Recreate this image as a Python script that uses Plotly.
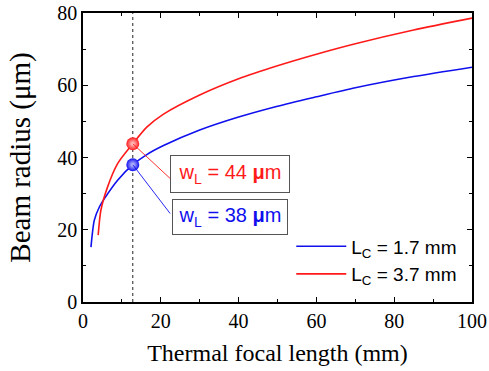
import plotly.graph_objects as go

# Blue curve: L_C = 1.7 mm
blue_f = [2.05, 2.9, 4.2, 5.5, 8.9, 12.8, 16.4, 20.7, 30, 40, 50, 60, 70, 85, 100]
blue_w = [15.2, 22.6, 26.3, 28.6, 33.7, 38.0, 40.8, 43.3, 47.6, 51.2, 54.2, 56.8, 59.3, 62.4, 65.0]
# Red curve: L_C = 3.7 mm
red_f = [3.9, 4.6, 6.3, 8.9, 12.8, 16.4, 20.7, 30, 40, 50, 60, 70, 85, 100]
red_w = [18.5, 25.4, 31.8, 38.3, 43.8, 48.4, 52.0, 57.3, 61.8, 65.4, 68.6, 71.5, 75.3, 78.6]

series_names = ["L<sub>C</sub> = 1.7 mm", "L<sub>C</sub> = 3.7 mm"]
f_mark = 12.8
w_mark_blue = 38.0
w_mark_red = 43.8
label_red = "w<sub>L</sub> = 44 <b>\u03bc</b>m"
label_blue = "w<sub>L</sub> = 38 <b>\u03bc</b>m"

BLUE = "#1010ee"
RED = "#ff1a1a"
SERIF = "Liberation Serif, Times New Roman, serif"
SANS = "Liberation Sans, Arial, sans-serif"

fig = go.Figure()
fig.add_trace(go.Scatter(x=blue_f, y=blue_w, mode="lines", name=series_names[0],
                         line=dict(color=BLUE, width=1.6, shape="spline", smoothing=0.7)))
fig.add_trace(go.Scatter(x=red_f, y=red_w, mode="lines", name=series_names[1],
                         line=dict(color=RED, width=1.6, shape="spline", smoothing=0.7)))

# dotted vertical line
fig.add_shape(type="line", x0=f_mark, x1=f_mark, y0=0, y1=80, xref="x", yref="y",
              line=dict(color="#222222", width=1, dash="dot"), layer="below")

# connector lines to labels
fig.add_shape(type="line", x0=f_mark, y0=w_mark_red, x1=22.4, y1=34.2,
              line=dict(color=RED, width=0.9))
fig.add_shape(type="line", x0=f_mark, y0=w_mark_blue, x1=22.4, y1=24.5,
              line=dict(color=BLUE, width=0.9))

# sphere markers
fig.add_trace(go.Scatter(x=[f_mark], y=[w_mark_red], mode="markers", showlegend=False,
                         marker=dict(size=13, color=RED, line=dict(width=0),
                                     gradient=dict(type="radial", color="#ffd8d8"))))
fig.add_trace(go.Scatter(x=[f_mark], y=[w_mark_blue], mode="markers", showlegend=False,
                         marker=dict(size=13, color=BLUE, line=dict(width=0),
                                     gradient=dict(type="radial", color="#d0d0ff"))))

fig.add_annotation(x=37.9, y=35.4, xref="x", yref="y", text=label_red, showarrow=False,
                   font=dict(family=SANS, size=20, color=RED),
                   bordercolor="#555555", borderwidth=1, bgcolor="white",
                   width=116, height=34)
fig.add_annotation(x=37.8, y=23.5, xref="x", yref="y", text=label_blue, showarrow=False,
                   font=dict(family=SANS, size=20, color=BLUE),
                   bordercolor="#555555", borderwidth=1, bgcolor="white",
                   width=112, height=32)

axis_common = dict(showline=True, linecolor="black", linewidth=1.5, mirror="ticks",
                   ticks="inside", ticklen=5, tickwidth=1.2, tickcolor="black",
                   showgrid=False, zeroline=False, automargin=False,
                   ticklabeloverflow="allow",
                   tickfont=dict(family=SERIF, size=20, color="black"))

fig.update_xaxes(range=[0, 100], dtick=20, tick0=0,
                 minor=dict(dtick=10, ticks="inside", ticklen=3, tickcolor="black"),
                 title=dict(text="Thermal focal length (mm)", standoff=13,
                            font=dict(family=SERIF, size=24, color="black")),
                 **axis_common)
fig.update_yaxes(range=[0, 80], dtick=20, tick0=0,
                 minor=dict(dtick=10, ticks="inside", ticklen=3, tickcolor="black"),
                 title=dict(text="Beam radius (\u03bcm)", standoff=18,
                            font=dict(family=SERIF, size=29, color="black")),
                 **axis_common)

fig.update_layout(
    width=489, height=371,
    margin=dict(l=83, r=17, t=13, b=69),
    plot_bgcolor="white", paper_bgcolor="white",
    legend=dict(x=0.975, y=0.03, xanchor="right", yanchor="bottom",
                bgcolor="rgba(255,255,255,0)", borderwidth=0,
                font=dict(family=SANS, size=19, color="black"),
                tracegroupgap=0, itemwidth=50),
)

# remove the default 8px page margin so the figure sits at the window's corner
fig.write_html("out.html", config={"displayModeBar": False},
               post_script="document.body.style.margin='0';document.body.style.overflow='hidden';")
